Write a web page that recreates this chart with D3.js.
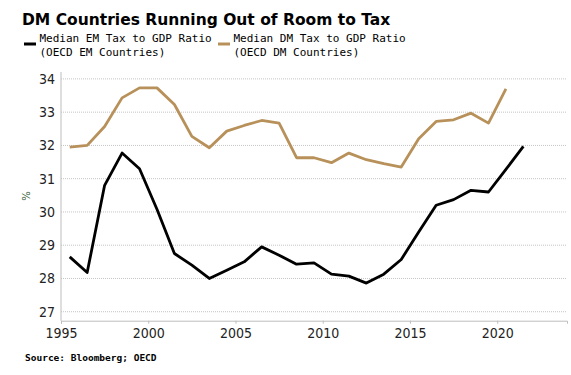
<!DOCTYPE html>
<html>
<head>
<meta charset="utf-8">
<script src="https://cdn.jsdelivr.net/npm/d3@7"></script>
<style>
  body { margin: 0; background: #fff; }
  svg { display: block; }
</style>
</head>
<body>
<div id="app"></div>
<script>
// values, one per year (plotted mid-year)
const emYears = d3.range(1995, 2022)
const emValues = [28.65, 28.18, 30.8, 31.77, 31.3, 30.08, 28.75, 28.4, 28.0, 28.25, 28.5, 28.95, 28.7, 28.43, 28.47,
  28.13, 28.07, 27.86, 28.13, 28.57, 29.4, 30.2, 30.37, 30.65, 30.6, 31.28, 31.97]
const dmYears = d3.range(1995, 2021)
const dmValues = [31.95, 32.0, 32.57, 33.43, 33.73, 33.73, 33.23, 32.27, 31.93, 32.43, 32.6, 32.75, 32.67, 31.63, 31.63,
  31.48, 31.77, 31.57, 31.45, 31.35, 32.2, 32.72, 32.77, 32.97, 32.67, 33.7]
const yTicks = [27, 28, 29, 30, 31, 32, 33, 34]
const xTicks = [1995, 2000, 2005, 2010, 2015, 2020]
const seriesNames = [['Median EM Tax to GDP Ratio', '(OECD EM Countries)'], ['Median DM Tax to GDP Ratio', '(OECD DM Countries)']]
const colors = ['#000000', '#b8915a']

const width = 571, height = 375
const svg = d3.select('#app').append('svg')
  .attr('width', width).attr('height', height)

const x = d3.scaleLinear().domain([1995, 2024]).range([61, 567])
const y = d3.scaleLinear().domain([26.73, 34.4]).range([320.7, 65.6])

const tickFont = '"DejaVu Sans Condensed", "DejaVu Sans", sans-serif'

// title
svg.append('text').text('DM Countries Running Out of Room to Tax')
  .attr('x', 22).attr('y', 25)
  .style('font-family', '"DejaVu Sans", sans-serif').style('font-weight', 'bold').style('font-size', '15.5px')

// legend
const legend = svg.append('g')
seriesNames.forEach((names, i) => {
  const lx = i == 0 ? 24 : 218
  const g = legend.append('g').attr('transform', `translate(${lx},0)`)
  g.append('line').attr('x1', 0).attr('x2', 12).attr('y1', 44).attr('y2', 44)
    .attr('stroke', colors[i]).attr('stroke-width', 3)
  names.forEach((t, j) => {
    g.append('text').text(t).attr('x', 15.5).attr('y', 42 + j * 14)
      .style('font-family', '"DejaVu Sans Mono", monospace').style('font-size', '11px')
  })
})

// gridlines
svg.append('g').selectAll('line')
  .data(yTicks).enter().append('line')
  .attr('x1', x(1995)).attr('x2', x(2024))
  .attr('y1', d => y(d)).attr('y2', d => y(d))
  .attr('stroke', '#c4c4c4').attr('stroke-dasharray', '1,1')

// axes
const yAxis = svg.append('g').attr('transform', `translate(${x(1995)},0)`)
  .call(d3.axisLeft(y).tickValues(yTicks).tickSize(0).tickPadding(6))
yAxis.select('.domain').remove()
yAxis.append('line').attr('x1', 0).attr('x2', 0).attr('y1', 72).attr('y2', y.range()[0]).attr('stroke', '#bdbdbd')
yAxis.selectAll('text').style('font-family', tickFont).style('font-size', '14px').attr('fill', '#222')

const xAxis = svg.append('g').attr('transform', `translate(0,${y.range()[0]})`)
  .call(d3.axisBottom(x).tickValues(xTicks).tickFormat(d3.format('d')).tickSize(3).tickPadding(4))
xAxis.select('.domain').attr('stroke', '#bdbdbd')
xAxis.selectAll('.tick line').attr('stroke', '#bdbdbd')
xAxis.selectAll('text').style('font-family', tickFont).style('font-size', '14px').attr('fill', '#222')

svg.append('text').text('%')
  .attr('transform', 'translate(30,196) rotate(-90)')
  .attr('text-anchor', 'middle')
  .style('font-family', '"DejaVu Sans", sans-serif').style('font-size', '10px').attr('fill', '#2e5a2e')

// lines
const line = d3.line().x(d => x(d[0] + 0.5)).y(d => y(d[1]))
const series = [d3.zip(emYears, emValues), d3.zip(dmYears, dmValues)]
svg.selectAll('path.series')
  .data(series).enter().append('path')
  .attr('class', 'series')
  .attr('d', d => line(d))
  .attr('fill', 'none')
  .attr('stroke', (d, i) => colors[i])
  .attr('stroke-width', 2.8)
  .attr('stroke-linejoin', 'round')

// source
svg.append('text').text('Source: Bloomberg; OECD')
  .attr('x', 25).attr('y', 361)
  .style('font-family', '"DejaVu Sans Mono", monospace').style('font-weight', 'bold').style('font-size', '9.5px')
</script>
</body>
</html>
